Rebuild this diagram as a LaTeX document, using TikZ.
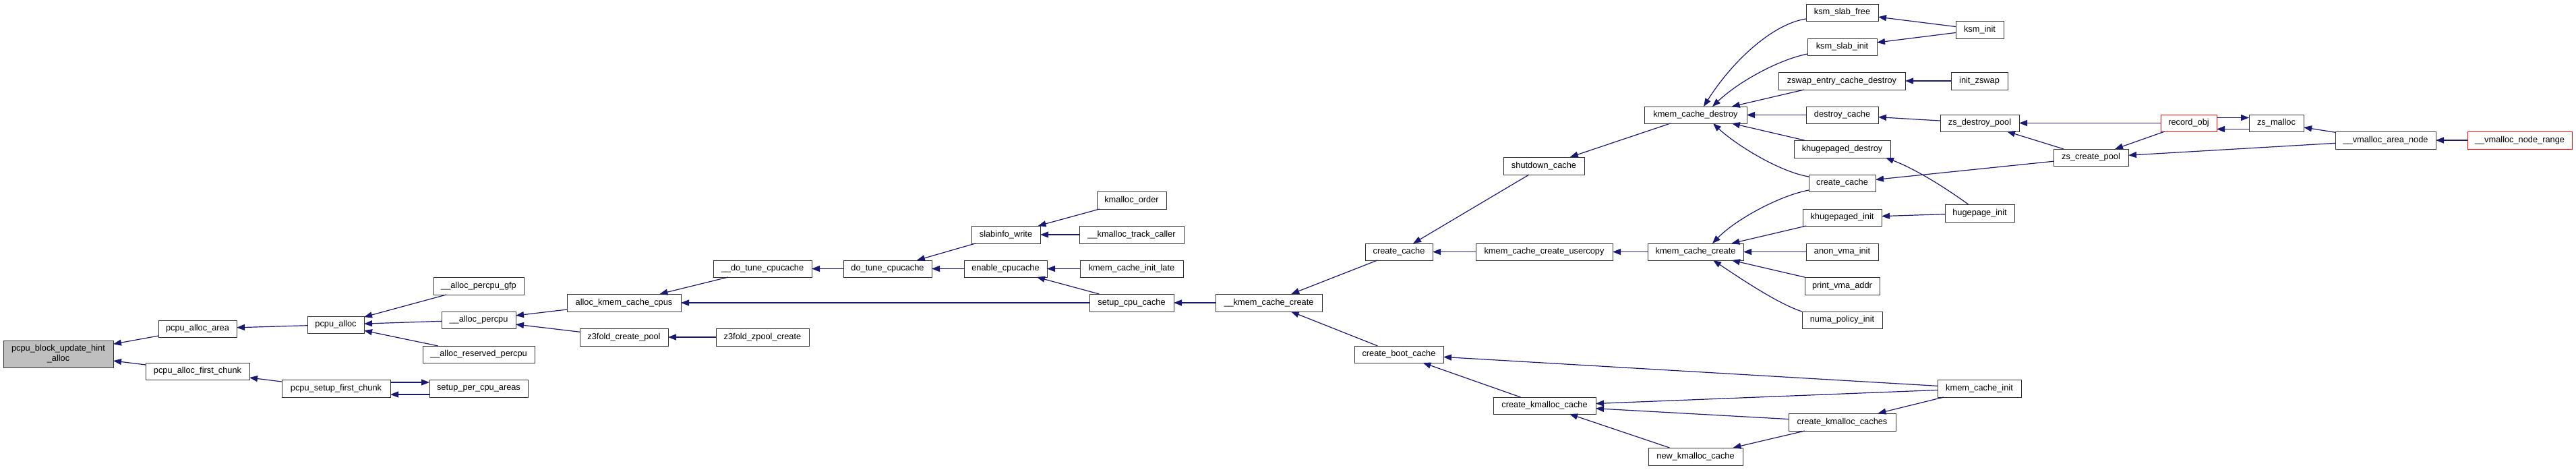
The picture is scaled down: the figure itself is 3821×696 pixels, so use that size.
\documentclass[tikz,border=0pt]{standalone}
\usepackage{fontspec}
\setmainfont{Liberation Sans}
\usetikzlibrary{arrows.meta,calc}
\definecolor{edgecol}{HTML}{191970}
\definecolor{nodegray}{HTML}{BFBFBF}
\definecolor{trunc}{HTML}{FF0000}
\newcommand\mkfn[7][]{%
  \pgfmathsetmacro\fnw{(#5-#3)*0.5}%
  \pgfmathsetmacro\fnh{(#6-#4)*0.5}%
  \node[fn,#1,minimum width=\fnw pt,minimum height=\fnh pt] (#2) at ({(#3+#5)/2},{(#4+#6)/2}) {#7};%
}
\begin{document}
\begin{tikzpicture}[x=0.5pt,y=-0.5pt,
  fn/.style={draw=black!80, line width=0.5pt, fill=white, inner sep=0pt, outer sep=0pt,
    font=\fontsize{6.4}{7.6}\selectfont, text=black, align=center},
  truncbox/.style={draw=trunc},
  rootbox/.style={fill=nodegray},
  callarr/.style={draw=edgecol, line width=0.6pt, -{Triangle[length=6pt,width=4.5pt,fill=edgecol]}}]
\fill[white] (0,0) rectangle (3821,696);
\useasboundingbox (0,0) rectangle (3821,696);

\mkfn[rootbox]{pcpu_block}{5}{505}{168}{545}{pcpu\_block\_update\_hint\\\_alloc}
\mkfn{pcpu_alloc_area}{235}{475}{351}{500}{pcpu\_alloc\_area}
\mkfn{pcpu_alloc_first_chunk}{216}{538}{370}{563}{pcpu\_alloc\_first\_chunk}
\mkfn{pcpu_alloc}{456}{469}{540}{494}{pcpu\_alloc}
\mkfn{pcpu_setup_first_chunk}{418}{563}{579}{589}{pcpu\_setup\_first\_chunk}
\mkfn{alloc_percpu_gfp}{643}{411}{777}{437}{\_\_alloc\_percpu\_gfp}
\mkfn{alloc_percpu}{655}{462}{765}{487}{\_\_alloc\_percpu}
\mkfn{alloc_reserved_percpu}{627}{513}{793}{538}{\_\_alloc\_reserved\_percpu}
\mkfn{setup_per_cpu_areas}{637}{563}{783}{589}{setup\_per\_cpu\_areas}
\mkfn{alloc_kmem_cache_cpus}{841}{436}{1010}{462}{alloc\_kmem\_cache\_cpus}
\mkfn{z3fold_create_pool}{860}{487}{991}{513}{z3fold\_create\_pool}
\mkfn{ddtc}{1058}{386}{1204}{411}{\_\_do\_tune\_cpucache}
\mkfn{z3fold_zpool_create}{1062}{487}{1200}{513}{z3fold\_zpool\_create}
\mkfn{do_tune_cpucache}{1251}{386}{1382}{411}{do\_tune\_cpucache}
\mkfn{slabinfo_write}{1441}{335}{1543}{361}{slabinfo\_write}
\mkfn{kmalloc_order}{1627}{284}{1730}{310}{kmalloc\_order}
\mkfn{kmalloc_track_caller}{1601}{335}{1756}{361}{\_\_kmalloc\_track\_caller}
\mkfn{enable_cpucache}{1430}{386}{1553}{411}{enable\_cpucache}
\mkfn{kmem_cache_init_late}{1602}{386}{1755}{411}{kmem\_cache\_init\_late}
\mkfn{setup_cpu_cache}{1616}{436}{1741}{462}{setup\_cpu\_cache}
\mkfn{ukcc}{1803}{436}{1961}{462}{\_\_kmem\_cache\_create}
\mkfn{create_cacheA}{2025}{361}{2125}{386}{create\_cache}
\mkfn{shutdown_cache}{2230}{233}{2350}{259}{shutdown\_cache}
\mkfn{kcc_usercopy}{2189}{361}{2392}{386}{kmem\_cache\_create\_usercopy}
\mkfn{create_boot_cache}{2009}{513}{2141}{538}{create\_boot\_cache}
\mkfn{create_kmalloc_cache}{2215}{589}{2367}{614}{create\_kmalloc\_cache}
\mkfn{new_kmalloc_cache}{2445}{664}{2585}{690}{new\_kmalloc\_cache}
\mkfn{kmem_cache_destroy}{2439}{158}{2591}{183}{kmem\_cache\_destroy}
\mkfn{kmem_cache_create}{2444}{361}{2586}{386}{kmem\_cache\_create}
\mkfn{ksm_slab_free}{2679}{6}{2786}{31}{ksm\_slab\_free}
\mkfn{ksm_slab_init}{2681}{57}{2784}{82}{ksm\_slab\_init}
\mkfn{zswap_entry_cache_destroy}{2638}{107}{2826}{133}{zswap\_entry\_cache\_destroy}
\mkfn{destroy_cache}{2679}{158}{2786}{183}{destroy\_cache}
\mkfn{khugepaged_destroy}{2661}{208}{2804}{234}{khugepaged\_destroy}
\mkfn{create_cacheB}{2683}{259}{2782}{284}{create\_cache}
\mkfn{khugepaged_init}{2674}{310}{2791}{335}{khugepaged\_init}
\mkfn{anon_vma_init}{2679}{361}{2786}{386}{anon\_vma\_init}
\mkfn{print_vma_addr}{2677}{411}{2788}{437}{print\_vma\_addr}
\mkfn{numa_policy_init}{2673}{462}{2792}{487}{numa\_policy\_init}
\mkfn{kmem_cache_init}{2874}{563}{2998}{589}{kmem\_cache\_init}
\mkfn{create_kmalloc_caches}{2653}{613}{2812}{639}{create\_kmalloc\_caches}
\mkfn{ksm_init}{2901}{31}{2972}{57}{ksm\_init}
\mkfn{init_zswap}{2894}{107}{2978}{133}{init\_zswap}
\mkfn{zs_destroy_pool}{2878}{170}{2995}{195}{zs\_destroy\_pool}
\mkfn{hugepage_init}{2885}{303}{2988}{329}{hugepage\_init}
\mkfn{zs_create_pool}{3046}{221}{3157}{246}{zs\_create\_pool}
\mkfn[truncbox]{record_obj}{3205}{170}{3288}{195}{record\_obj}
\mkfn{zs_malloc}{3336}{170}{3417}{195}{zs\_malloc}
\mkfn{vmalloc_area_node}{3464}{195}{3613}{221}{\_\_vmalloc\_area\_node}
\mkfn[truncbox]{vmalloc_node_range}{3660}{195}{3815}{221}{\_\_vmalloc\_node\_range}

\draw[callarr] (pcpu_alloc_area) -- (pcpu_block);
\draw[callarr] (pcpu_alloc_first_chunk) -- (pcpu_block);
\draw[callarr] (pcpu_alloc) -- (pcpu_alloc_area);
\draw[callarr] (pcpu_setup_first_chunk) -- (pcpu_alloc_first_chunk);
\draw[callarr] ($(pcpu_setup_first_chunk.east)+(0,-9)$) -- ($(setup_per_cpu_areas.west)+(0,-9)$);
\draw[callarr] ($(setup_per_cpu_areas.west)+(0,9)$) -- ($(pcpu_setup_first_chunk.east)+(0,9)$);
\draw[callarr] (alloc_percpu_gfp) -- (pcpu_alloc);
\draw[callarr] (alloc_percpu) -- (pcpu_alloc);
\draw[callarr] (alloc_reserved_percpu) -- (pcpu_alloc);
\draw[callarr] (alloc_kmem_cache_cpus) -- (alloc_percpu);
\draw[callarr] (z3fold_create_pool) -- (alloc_percpu);
\draw[callarr] (ddtc) -- (alloc_kmem_cache_cpus);
\draw[callarr] (setup_cpu_cache) -- (alloc_kmem_cache_cpus);
\draw[callarr] (z3fold_zpool_create) -- (z3fold_create_pool);
\draw[callarr] (do_tune_cpucache) -- (ddtc);
\draw[callarr] (slabinfo_write) -- (do_tune_cpucache);
\draw[callarr] (enable_cpucache) -- (do_tune_cpucache);
\draw[callarr] (kmem_cache_init_late) -- (enable_cpucache);
\draw[callarr] (setup_cpu_cache) -- (enable_cpucache);
\draw[callarr] (ukcc) -- (setup_cpu_cache);
\draw[callarr] (kmalloc_order) -- (slabinfo_write);
\draw[callarr] (kmalloc_track_caller) -- (slabinfo_write);
\draw[callarr] (create_cacheA) -- (ukcc);
\draw[callarr] (create_boot_cache) -- (ukcc);
\draw[callarr] (kcc_usercopy) -- (create_cacheA);
\draw[callarr] (kmem_cache_create) -- (kcc_usercopy);
\draw[callarr] (shutdown_cache) -- (create_cacheA);
\draw[callarr] (kmem_cache_destroy) -- (shutdown_cache);
\draw[callarr] (create_kmalloc_cache) -- (create_boot_cache);
\draw[callarr] (kmem_cache_init) -- (create_boot_cache);
\draw[callarr] (kmem_cache_init) -- (create_kmalloc_cache);
\draw[callarr] (create_kmalloc_caches) -- (create_kmalloc_cache);
\draw[callarr] (new_kmalloc_cache) -- (create_kmalloc_cache);
\draw[callarr] (kmem_cache_init) -- (create_kmalloc_caches);
\draw[callarr] (create_kmalloc_caches) -- (new_kmalloc_cache);

\draw[callarr] ($(ksm_slab_free.south west)+(0,-3)$) .. controls (2630,35) and (2570,90) .. ($(kmem_cache_destroy.north)+(12,0)$);
\draw[callarr] ($(ksm_slab_init.south west)+(0,-2)$) .. controls (2640,88) and (2580,120) .. ($(kmem_cache_destroy.north)+(25,0)$);
\draw[callarr] (zswap_entry_cache_destroy) -- (kmem_cache_destroy);
\draw[callarr] (destroy_cache) -- (kmem_cache_destroy);
\draw[callarr] (khugepaged_destroy) -- (kmem_cache_destroy);
\draw[callarr] ($(create_cacheB.north west)+(0,3)$) .. controls (2640,255) and (2575,215) .. ($(kmem_cache_destroy.south)+(26,0)$);
\draw[callarr] ($(create_cacheB.south west)+(0,-2)$) .. controls (2640,290) and (2575,325) .. ($(kmem_cache_create.north)+(25,0)$);
\draw[callarr] (khugepaged_init) -- (kmem_cache_create);
\draw[callarr] (anon_vma_init) -- (kmem_cache_create);
\draw[callarr] (print_vma_addr) -- (kmem_cache_create);
\draw[callarr] (numa_policy_init.north west) .. controls (2635,450) and (2570,405) .. ($(kmem_cache_create.south)+(26,0)$);

\draw[callarr] (ksm_init) -- (ksm_slab_free);
\draw[callarr] (ksm_init) -- (ksm_slab_init);
\draw[callarr] (init_zswap) -- (zswap_entry_cache_destroy);
\draw[callarr] (zs_destroy_pool) -- (destroy_cache);
\draw[callarr] (zs_create_pool) -- (zs_destroy_pool);
\draw[callarr] (zs_create_pool) -- (create_cacheB);
\draw[callarr] ($(hugepage_init.north)+(-17,0)$) .. controls (2885,278) and (2840,250) .. ($(khugepaged_destroy.south east)+(-7,0)$);
\draw[callarr] (hugepage_init) -- (khugepaged_init);
\draw[callarr] (record_obj) -- (zs_destroy_pool);
\draw[callarr] (record_obj) -- (zs_create_pool);
\draw[callarr] (vmalloc_area_node) -- (zs_create_pool);
\draw[callarr] ($(record_obj.east)+(0,-8)$) -- ($(zs_malloc.west)+(0,-8)$);
\draw[callarr] ($(zs_malloc.west)+(0,9)$) -- ($(record_obj.east)+(0,9)$);
\draw[callarr] (vmalloc_area_node) -- (zs_malloc);
\draw[callarr] (vmalloc_node_range) -- (vmalloc_area_node);
\end{tikzpicture}
\end{document}
